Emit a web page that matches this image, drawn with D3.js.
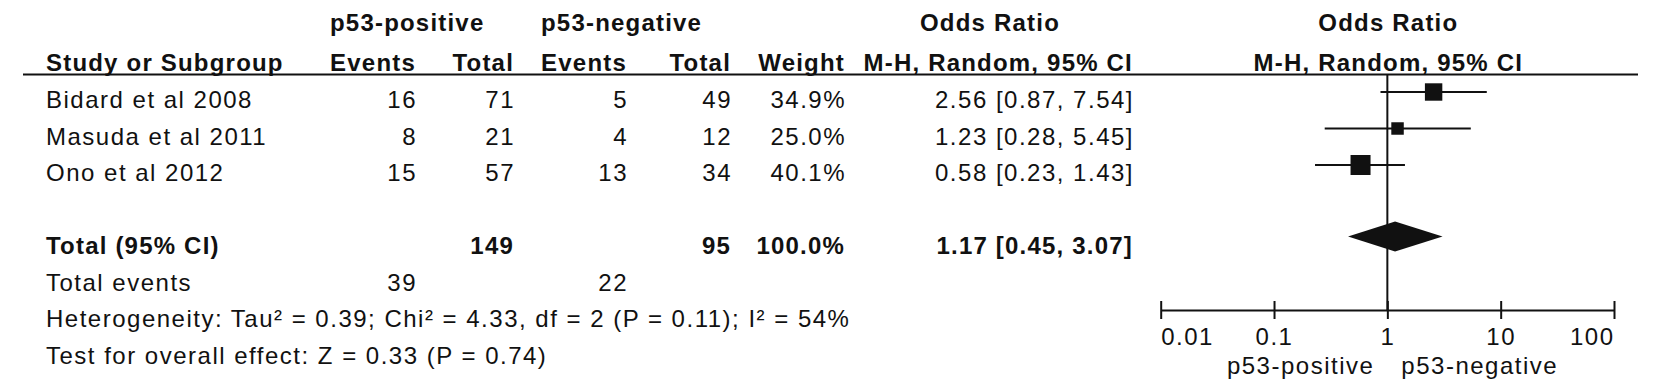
<!DOCTYPE html>
<html>
<head>
<meta charset="utf-8">
<script src="https://cdn.jsdelivr.net/npm/d3@7"></script>
<style>
  body { margin: 0; background: #fff; }
  text { font-family: "Liberation Sans", Arial, sans-serif; font-size: 24px; fill: #111; letter-spacing: 1.5px; }
  .b { font-weight: bold; letter-spacing: 1.2px; }
</style>
</head>
<body>
<script>
// study rows
var studies = ["Bidard et al 2008", "Masuda et al 2011", "Ono et al 2012"];
var posEvents = [16, 8, 15];
var posTotal = [71, 21, 57];
var negEvents = [5, 4, 13];
var negTotal = [49, 12, 34];
var weights = [34.9, 25.0, 40.1];
var orValue = [2.56, 1.23, 0.58];
var ciLow = [0.87, 0.28, 0.23];
var ciHigh = [7.54, 5.45, 1.43];

// pooled
var pooled = { or: 1.17, lo: 0.45, hi: 3.07 };
var totals = { posTotal: 149, negTotal: 95, weight: 100.0, posEvents: 39, negEvents: 22 };
var hetText = "Heterogeneity: Tau\u00b2 = 0.39; Chi\u00b2 = 4.33, df = 2 (P = 0.11); I\u00b2 = 54%";
var testText = "Test for overall effect: Z = 0.33 (P = 0.74)";

var axisTicks = [0.01, 0.1, 1, 10, 100];
var axisLabels = ["0.01", "0.1", "1", "10", "100"];
var favours = ["p53-positive", "p53-negative"];

var W = 1654, H = 388;
var svg = d3.select("body").append("svg").attr("width", W).attr("height", H);

var x = d3.scaleLog().domain([0.01, 100]).range([1160.7, 1614]);
var row = d3.scaleLinear().domain([0, 1]).range([92, 128.5]); // row centre
var size = d3.scaleLinear().domain([0, 40.1]).range([0, 20]);
var f2 = d3.format(".2f");
var f1 = d3.format(".1f");

// column anchors
var col = { study: 46, ev1: 417, tot1: 515, ev2: 628, tot2: 732, wt: 846, or: 1134 };

function txt(x0, y0, s, anchor, bold) {
  return svg.append("text").attr("x", x0).attr("y", y0)
    .attr("text-anchor", anchor || "start")
    .attr("class", bold ? "b" : null)
    .text(s);
}

// headers
txt(330, 31, "p53-positive", "start", true);
txt(541, 31, "p53-negative", "start", true);
txt(990, 31, "Odds Ratio", "middle", true);
txt(x(1) + 1, 31, "Odds Ratio", "middle", true);
txt(col.study, 71, "Study or Subgroup", "start", true);
txt(col.ev1 - 1, 71, "Events", "end", true);
txt(col.tot1 - 1, 71, "Total", "end", true);
txt(col.ev2 - 1, 71, "Events", "end", true);
txt(col.tot2 - 1, 71, "Total", "end", true);
txt(col.wt - 1, 71, "Weight", "end", true);
txt(col.or - 1, 71, "M-H, Random, 95% CI", "end", true);
txt(x(1) + 1, 71, "M-H, Random, 95% CI", "middle", true);

svg.append("line").attr("x1", 23).attr("x2", 1638).attr("y1", 74.5).attr("y2", 74.5)
  .attr("stroke", "#111").attr("stroke-width", 2.2);

// study rows
studies.forEach(function (s, i) {
  var yb = row(i) + 16;
  txt(col.study, yb, s);
  txt(col.ev1, yb, posEvents[i], "end");
  txt(col.tot1, yb, posTotal[i], "end");
  txt(col.ev2, yb, negEvents[i], "end");
  txt(col.tot2, yb, negTotal[i], "end");
  txt(col.wt, yb, f1(weights[i]) + "%", "end");
  txt(col.or, yb, f2(orValue[i]) + " [" + f2(ciLow[i]) + ", " + f2(ciHigh[i]) + "]", "end");
});

// total rows
var yT = row(4) + 16;
txt(col.study, yT, "Total (95% CI)", "start", true);
txt(col.tot1 - 1, yT, totals.posTotal, "end", true);
txt(col.tot2 - 1, yT, totals.negTotal, "end", true);
txt(col.wt - 1, yT, f1(totals.weight) + "%", "end", true);
txt(col.or - 1, yT, f2(pooled.or) + " [" + f2(pooled.lo) + ", " + f2(pooled.hi) + "]", "end", true);

var yE = row(5) + 16;
txt(col.study, yE, "Total events");
txt(col.ev1, yE, totals.posEvents, "end");
txt(col.ev2, yE, totals.negEvents, "end");
txt(col.study, row(6) + 16, hetText);
txt(col.study, row(7) + 16, testText);

// forest plot
var axisY = 310;
svg.append("line").attr("x1", x(1)).attr("x2", x(1)).attr("y1", 74).attr("y2", axisY)
  .attr("stroke", "#111").attr("stroke-width", 2);

var g = svg.append("g");
g.selectAll(".ci").data(studies).enter().append("line")
  .attr("class", "ci")
  .attr("x1", function (d, i) { return x(ciLow[i]); })
  .attr("x2", function (d, i) { return x(ciHigh[i]); })
  .attr("y1", function (d, i) { return row(i); })
  .attr("y2", function (d, i) { return row(i); })
  .attr("stroke", "#111").attr("stroke-width", 2);
g.selectAll(".sq").data(studies).enter().append("rect")
  .attr("class", "sq")
  .attr("x", function (d, i) { return x(orValue[i]) - size(weights[i]) / 2; })
  .attr("y", function (d, i) { return row(i) - size(weights[i]) / 2; })
  .attr("width", function (d, i) { return size(weights[i]); })
  .attr("height", function (d, i) { return size(weights[i]); })
  .attr("fill", "#111");

var yd = row(4) - 1.5;
g.append("path")
  .attr("d", "M" + x(pooled.lo) + "," + yd + "L" + x(pooled.or) + "," + (yd - 15) +
    "L" + x(pooled.hi) + "," + yd + "L" + x(pooled.or) + "," + (yd + 15) + "Z")
  .attr("fill", "#111");

// axis
var ax = svg.append("g").attr("transform", "translate(0," + axisY + ")")
  .call(d3.axisBottom(x).tickValues(axisTicks).tickSizeOuter(0).tickSizeInner(9)
    .tickFormat(function (d, i) { return axisLabels[i]; }));
ax.select(".domain").attr("stroke", "#111").attr("stroke-width", 2);
ax.selectAll(".tick line").attr("y1", -9).attr("y2", 9).attr("stroke", "#111").attr("stroke-width", 2);
ax.selectAll(".tick text")
  .attr("y", 35).attr("dy", 0)
  .attr("font-size", null).attr("font-family", null).attr("fill", null)
  .attr("text-anchor", function (d, i) { return i === 0 ? "start" : i === axisTicks.length - 1 ? "end" : "middle"; });
ax.attr("font-size", null).attr("font-family", null);

txt(x(1) - 13, 374, favours[0], "end");
txt(x(1) + 14, 374, favours[1], "start");
</script>
</body>
</html>
